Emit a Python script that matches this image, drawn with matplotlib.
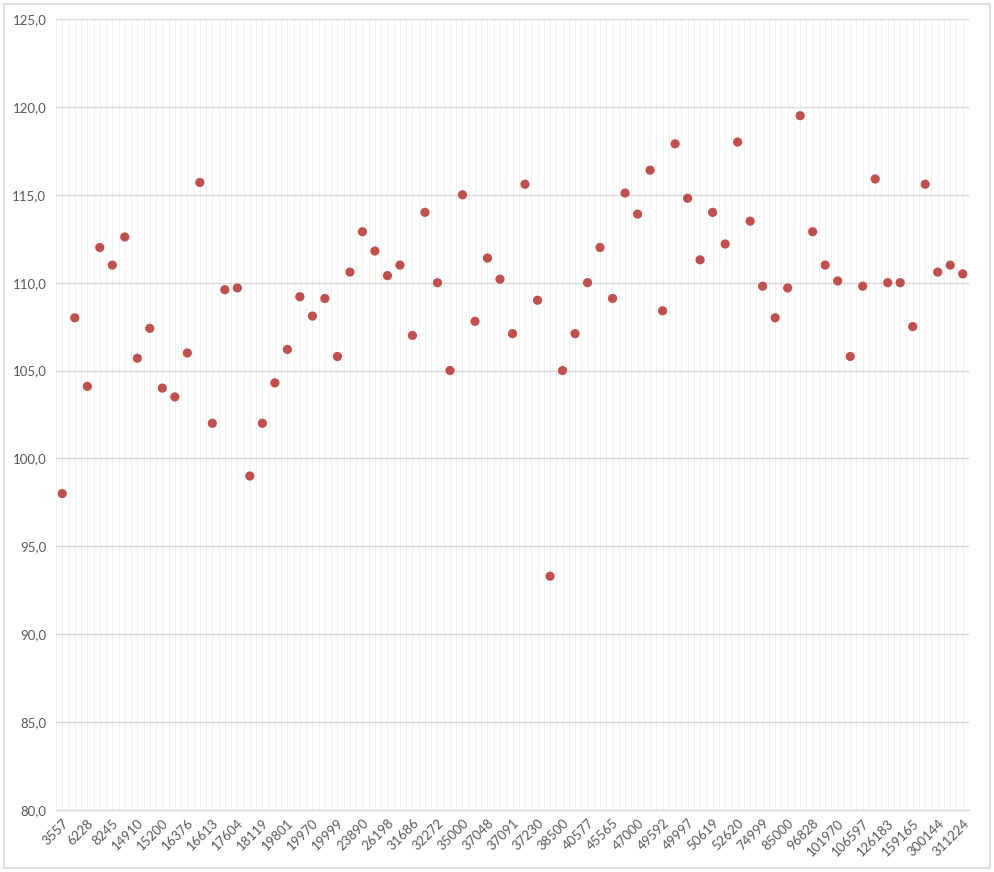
import matplotlib
matplotlib.use('Agg')
from matplotlib import pyplot as plt
from matplotlib.patches import Rectangle
from matplotlib.ticker import FuncFormatter
import numpy as np

# category labels shown on the axis (every second category is labelled)
tick_labels = ['3557', '6228', '8245', '14910', '15200', '16376', '16613', '17604',
               '18119', '19801', '19970', '19999', '23890', '26198', '31686', '32272',
               '35000', '37048', '37091', '37230', '38500', '40577', '45565', '47000',
               '49592', '49997', '50619', '52620', '74999', '85000', '96828', '101970',
               '106597', '126183', '159165', '300144', '311224']

# values, one per category (73 categories)
values = [98.0, 108.0, 104.1, 112.0, 111.0, 112.6, 105.7, 107.4, 104.0, 103.5,
          106.0, 115.7, 102.0, 109.6, 109.7, 99.0, 102.0, 104.3, 106.2, 109.2,
          108.1, 109.1, 105.8, 110.6, 112.9, 111.8, 110.4, 111.0, 107.0, 114.0,
          110.0, 105.0, 115.0, 107.8, 111.4, 110.2, 107.1, 115.6, 109.0, 93.3,
          105.0, 107.1, 110.0, 112.0, 109.1, 115.1, 113.9, 116.4, 108.4, 117.9,
          114.8, 111.3, 114.0, 112.2, 118.0, 113.5, 109.8, 108.0, 109.7, 119.5,
          112.9, 111.0, 110.1, 105.8, 109.8, 115.9, 110.0, 110.0, 107.5, 115.6,
          110.6, 111.0, 110.5]

plt.rcParams['font.family'] = ['Lato', 'DejaVu Sans']

W, H = 995, 872
fig = plt.figure(figsize=(W / 100, H / 100), dpi=100)

# chart area border
fig.patches.append(Rectangle((4 / W, 4 / H), (990 - 4) / W, (868 - 4) / H,
                             transform=fig.transFigure, fill=False,
                             edgecolor='#d9d9d9', linewidth=1.2))

ax = fig.add_axes([56 / W, (H - 810) / H, (969 - 56) / W, (810 - 19) / H])

x = np.arange(len(values))

# light vertical grid (category boundaries and centres)
for gx in np.arange(-0.5, len(values), 0.5):
    ax.axvline(gx, color='#f0f0f0', linewidth=0.7, zorder=0)

ax.set_ylim(80, 125)
ax.set_xlim(-0.5, len(values) - 0.5)
ax.set_yticks(np.arange(80, 126, 5))
ax.yaxis.set_major_formatter(FuncFormatter(lambda v, p: f'{v:.1f}'.replace('.', ',')))
ax.grid(axis='y', color='#d9d9d9', linewidth=1.0, zorder=1)

ax.scatter(x, values, s=44, color='#c0504d', edgecolors='none', zorder=3)

ax.set_xticks(x[::2])
ax.set_xticklabels(tick_labels, rotation=45, ha='right', va='top',
                   rotation_mode='anchor')
ax.tick_params(axis='both', length=0, labelsize=9.5, labelcolor='#595959')
ax.tick_params(axis='y', pad=7)
ax.tick_params(axis='x', pad=5)

for s in ['top', 'right', 'left']:
    ax.spines[s].set_visible(False)
ax.spines['bottom'].set_color('#d9d9d9')
ax.spines['bottom'].set_linewidth(1.0)

fig.savefig('out.png', dpi=100)
